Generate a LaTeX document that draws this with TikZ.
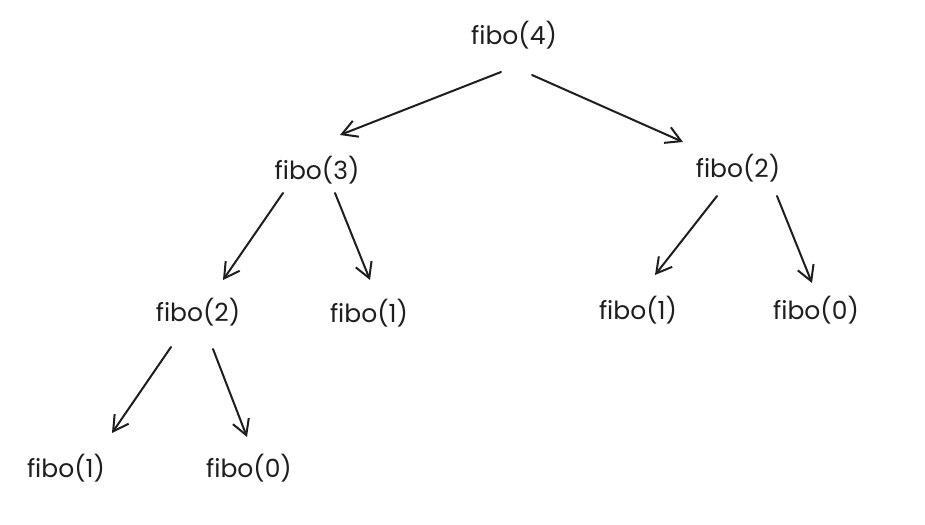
\documentclass[tikz,border=0pt]{standalone}
\usepackage{fontspec}
\usepackage{xcolor}
\usetikzlibrary{arrows.meta}
\newfontfamily\fibofont{Poppins}
\definecolor{ink}{HTML}{1E1E1E}

\begin{document}
\begin{tikzpicture}[x=1pt,y=-1pt]
\tikzset{call/.style={text=ink,inner sep=0pt,font=\fibofont\fontsize{25}{30}\selectfont}}
\tikzset{edge/.style={draw=ink,line width=2pt,line cap=round,-{Straight Barb[length=15pt,width=17pt]}}}
\useasboundingbox (0,0) rectangle (925,524);

\node[call] (f4) at (514,35) {fibo(4)};
\node[call] (f3) at (317,170) {fibo(3)};
\node[call] (f2r) at (738,168) {fibo(2)};
\node[call] (f2l) at (198,312) {fibo(2)};
\node[call] (f1a) at (369,313) {fibo(1)};
\node[call] (f1b) at (638,310) {fibo(1)};
\node[call] (f0a) at (816,310) {fibo(0)};
\node[call] (f1c) at (66,468) {fibo(1)};
\node[call] (f0b) at (249,468) {fibo(0)};

\draw[edge] ([shift={(-13,37)}]f4.center) -- ([shift={(23,-35)}]f3.center);
\draw[edge] ([shift={(18,40)}]f4.center) -- ([shift={(-55,-26)}]f2r.center);
\draw[edge] ([shift={(-34,23)}]f3.center) -- ([shift={(25,-32)}]f2l.center);
\draw[edge] ([shift={(18,23)}]f3.center) -- ([shift={(1,-33)}]f1a.center);
\draw[edge] ([shift={(-21,28)}]f2r.center) -- ([shift={(17,-35)}]f1b.center);
\draw[edge] ([shift={(39,28)}]f2r.center) -- ([shift={(-4,-27)}]f0a.center);
\draw[edge] ([shift={(-27,35)}]f2l.center) -- ([shift={(46,-35)}]f1c.center);
\draw[edge] ([shift={(15,37)}]f2l.center) -- ([shift={(-2,-31)}]f0b.center);

\end{tikzpicture}
\end{document}
